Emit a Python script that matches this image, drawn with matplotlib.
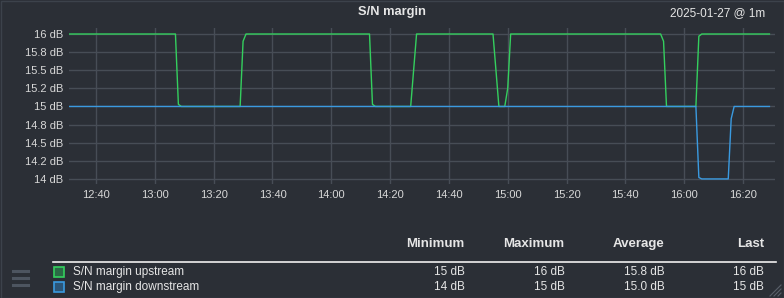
import matplotlib
matplotlib.use("Agg")
import matplotlib.pyplot as plt
import matplotlib.dates as mdates
from matplotlib.patches import Rectangle
from matplotlib.lines import Line2D
from datetime import datetime

# ---- data (breakpoints) ----
up_times = ["12:31", "13:07", "13:08", "13:09", "13:29", "13:30", "13:31",
            "14:13", "14:14", "14:15", "14:27", "14:29", "14:55", "14:57",
            "14:59", "15:00", "15:01", "15:52", "15:53", "15:54", "16:04",
            "16:05", "16:06", "16:29"]
up_values = [16, 16, 15.03, 15, 15, 15.9, 16,
             16, 15.03, 15, 15, 16, 16, 15,
             15, 15.25, 16, 16, 15.9, 15, 15,
             15.97, 16, 16]
down_times = ["12:31", "16:04", "16:05", "16:06", "16:15", "16:16", "16:17", "16:29"]
down_values = [15, 15, 14.02, 14, 14, 14.83, 15, 15]

y_ticks = [14, 14.25, 14.5, 14.75, 15, 15.25, 15.5, 15.75, 16]
y_labels = ["14 dB", "14.2 dB", "14.5 dB", "14.8 dB", "15 dB", "15.2 dB", "15.5 dB", "15.8 dB", "16 dB"]
x_ticks = ["12:40", "13:00", "13:20", "13:40", "14:00", "14:20", "14:40",
           "15:00", "15:20", "15:40", "16:00", "16:20"]

series_names = ["S/N margin upstream", "S/N margin downstream"]
stat_headers = ["Minimum", "Maximum", "Average", "Last"]
stats = [["15 dB", "16 dB", "15.8 dB", "16 dB"],
         ["14 dB", "15 dB", "15.0 dB", "15 dB"]]

title = "S/N margin"
date_label = "2025-01-27 @ 1m"


def t(s):
    h, m = s.split(":")
    return datetime(2025, 1, 27, int(h), int(m))


BG = "#2b2f36"
GRID = "#474d56"
TXT = "#e6e6e6"
GREEN = "#34cf5e"
BLUE = "#3a9ae0"
FONT = ["Liberation Sans", "DejaVu Sans"]
NARROW = ["Liberation Sans Narrow", "Liberation Sans", "DejaVu Sans"]

W, H = 784, 298
fig = plt.figure(figsize=(W / 100, H / 100), dpi=100, facecolor=BG)

# axes: x 69..775 px, y 28..184 px
ax = fig.add_axes([69 / W, 1 - 184 / H, (775 - 69) / W, (184 - 28) / H])
ax.set_facecolor(BG)
for s in ax.spines.values():
    s.set_visible(False)

ax.plot([t(s) for s in up_times], up_values, color=GREEN, lw=1.0, zorder=3)
ax.plot([t(s) for s in down_times], down_values, color=BLUE, lw=1.0, zorder=3)

x0 = datetime(2025, 1, 27, 12, 30, 48)
x1 = datetime(2025, 1, 27, 16, 30, 54)
ax.set_xlim(x0, x1)
ax.set_ylim(13.93, 16.083)
ax.set_yticks(y_ticks)
ax.set_yticklabels(y_labels)
ax.set_xticks([t(s) for s in x_ticks])
ax.set_xticklabels(x_ticks)
ax.tick_params(axis="both", length=0, colors="#d8d8d8", labelsize=8)
ax.tick_params(axis="y", pad=4)
ax.tick_params(axis="x", pad=4)
for lab in ax.get_xticklabels() + ax.get_yticklabels():
    lab.set_family(FONT)
ax.grid(True, color=GRID, lw=1.0, zorder=0)

# title and date
fig.text(392 / W, 1 - 12 / H, title, ha="center", va="center", color=TXT,
         fontsize=9.3, fontweight="bold", family=NARROW)
fig.text(765 / W, 1 - 13 / H, date_label, ha="right", va="center", color=TXT,
         fontsize=8.5, family=NARROW)

# legend table
hdr_x = [464, 564, 664, 764]
for hx, h in zip(hdr_x, stat_headers):
    fig.text(hx / W, 1 - 244 / H, h, ha="right", va="center", color=TXT,
             fontsize=9.5, fontweight="bold", family=NARROW)
fig.add_artist(Line2D([53 / W, 776 / W], [1 - 262 / H, 1 - 262 / H],
                      color="#f0f0f0", lw=1.2, transform=fig.transFigure))

row_y = [272, 287]
box_edges = [GREEN, BLUE]
box_fills = ["#2a6a45", "#2c5577"]
for ry, name, vals, ec, fc in zip(row_y, series_names, stats, box_edges, box_fills):
    fig.add_artist(Rectangle((54 / W, 1 - (ry + 5) / H), 10 / W, 10 / H,
                             facecolor=fc, edgecolor=ec, lw=1.2,
                             transform=fig.transFigure))
    fig.text(73 / W, 1 - ry / H, name, ha="left", va="center", color=TXT,
             fontsize=8.5, family=NARROW)
    for vx, v in zip([465, 565, 665, 764], vals):
        fig.text(vx / W, 1 - ry / H, v, ha="right", va="center", color=TXT,
                 fontsize=8.5, family=NARROW)

# hamburger icon
for hy in [271, 278, 285]:
    fig.add_artist(Line2D([13 / W, 28 / W], [1 - hy / H, 1 - hy / H],
                          color="#4d5560", lw=2.2, transform=fig.transFigure))
# resize grip
for k in [0, 4, 8]:
    fig.add_artist(Line2D([(770 + k) / W, (781) / W], [1 - 296 / H, 1 - (285 + k) / H],
                          color="#5a606a", lw=0.8, transform=fig.transFigure))

# outer border
fig.add_artist(Rectangle((0.5 / W, 0.5 / H), (W - 1) / W, (H - 1) / H, fill=False,
                         edgecolor="#3c424b", lw=1.0, transform=fig.transFigure))

fig.savefig("out.png", dpi=100, facecolor=BG)
